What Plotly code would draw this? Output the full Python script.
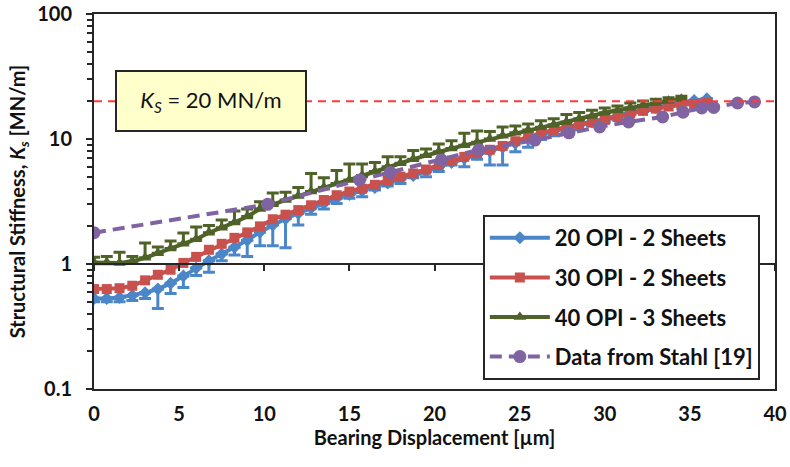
import plotly.graph_objects as go

# ---------------- data ----------------
x_20opi = [0, 0.75, 1.5, 2.25, 3.0, 3.75, 4.5, 5.25, 6.0, 6.75, 7.5, 8.25, 9.0, 9.75, 10.5, 11.25,
           12.0, 12.75, 13.5, 14.25, 15.0, 15.75, 16.5, 17.25, 18.0, 18.75, 19.5, 20.25, 21.0, 21.75,
           22.5, 23.25, 24.0, 24.75, 25.5, 26.25, 27.0, 27.75, 28.5, 29.25, 30.0, 30.75, 31.5, 32.25,
           33.0, 33.75, 34.5, 35.25, 36.0]
k_20opi = [0.53, 0.53, 0.54, 0.56, 0.59, 0.63, 0.70, 0.80, 0.93, 1.06, 1.20, 1.36, 1.55, 1.80, 2.05, 2.3,
           2.55, 2.8, 3.05, 3.35, 3.6, 3.85, 4.1, 4.45, 4.8, 5.1, 5.5, 6.0, 6.5, 7.0,
           7.5, 8.0, 8.6, 9.3, 10.1, 10.9, 11.6, 12.3, 13.0, 13.7, 14.4, 15.2, 16.2, 17.1,
           17.9, 18.7, 19.5, 20.3, 21.0]
err_20opi = [0.03, 0.03, 0.04, 0.05, 0.06, 0.19, 0.12, 0.15, 0.12, 0.2, 0.14, 0.18, 0.4, 0.4, 0.65, 0.95,
             0.5, 0.3, 0.3, 0.3, 0.25, 0.4, 0.2, 0.25, 0.4, 0.2, 0.5, 0.5, 0.3, 1.0,
             0.6, 1.8, 2.4, 1.4, 1.5, 1.0, 1.0, 0.8, 1.2, 1.0, 0.8, 0.8, 0.6, 0.5,
             0.5, 0.5, 0.5, 0.4, 0.4]

x_30opi = x_20opi
k_30opi = [0.63, 0.63, 0.64, 0.67, 0.74, 0.82, 0.90, 1.02, 1.14, 1.30, 1.45, 1.62, 1.79, 2.00, 2.28, 2.48,
           2.70, 2.95, 3.25, 3.55, 3.80, 4.00, 4.3, 4.65, 5.0, 5.3, 5.7, 6.2, 6.7, 7.2,
           7.7, 8.2, 8.8, 9.6, 10.4, 11.1, 11.8, 12.4, 13.0, 13.6, 14.2, 15.0, 16.0, 16.8,
           17.5, 18.2, 18.7, 19.1, 19.5]

x_40opi = [0, 0.75, 1.5, 2.25, 3.0, 3.75, 4.5, 5.25, 6.0, 6.75, 7.5, 8.25, 9.0, 9.75, 10.5, 11.25,
           12.0, 12.75, 13.5, 14.25, 15.0, 15.75, 16.5, 17.25, 18.0, 18.75, 19.5, 20.25, 21.0, 21.75,
           22.5, 23.25, 24.0, 24.75, 25.5, 26.25, 27.0, 27.75, 28.5, 29.25, 30.0, 30.75, 31.5, 32.25,
           33.0, 33.75, 34.5]
k_40opi = [1.03, 1.03, 1.02, 1.05, 1.12, 1.22, 1.33, 1.45, 1.58, 1.78, 1.95, 2.15, 2.4, 2.75, 3.0, 3.25,
           3.5, 3.8, 4.1, 4.4, 4.7, 5.1, 5.5, 6.0, 6.4, 6.9, 7.4, 7.9, 8.4, 8.9,
           9.4, 10.0, 10.6, 11.2, 11.8, 12.4, 13.0, 13.7, 14.5, 15.3, 16.2, 17.0, 17.8, 18.6,
           19.4, 20.2, 21.0]
err_40opi = [0.1, 0.12, 0.22, 0.1, 0.35, 0.15, 0.2, 0.32, 0.4, 0.25, 0.3, 0.5, 0.35, 0.4, 0.7, 0.5,
             0.6, 1.5, 0.8, 1.2, 1.6, 1.2, 1.0, 1.2, 0.8, 1.2, 0.9, 1.2, 1.3, 2.2,
             2.2, 1.5, 1.9, 1.5, 1.4, 1.6, 1.5, 2.0, 1.8, 1.7, 1.5, 1.4, 1.6, 1.5,
             1.4, 1.2, 1.0]

x_stahl = [0, 10.2, 15.6, 17.4, 20.4, 22.6, 25.9, 27.9, 29.7, 31.4, 33.4, 34.6, 35.7, 36.4, 37.8, 38.8]
k_stahl = [1.78, 3.0, 4.7, 5.4, 6.8, 8.2, 9.8, 11.2, 12.5, 13.7, 15.0, 16.4, 17.7, 17.9, 19.4, 19.8]

KS_REF = 20
X_RANGE = [0, 40]
X_TICKS = [0, 5, 10, 15, 20, 25, 30, 35, 40]
Y_TICKS = [0.1, 1, 10, 100]
Y_TICK_TEXT = ["0.1", "1", "10", "100"]

# ---------------- styles ----------------
FONT = "Lato"
BLUE = "#4a86c8"
RED = "#c8504d"
GREEN = "#4f6228"
PURPLE = "#8064a2"
AXIS = "#262626"
TXT = "#111111"

fig = go.Figure()

fig.add_trace(go.Scatter(
    x=x_20opi, y=k_20opi, name="20 OPI - 2 Sheets", mode="lines+markers",
    line=dict(color=BLUE, width=4),
    marker=dict(symbol="diamond", size=10, color=BLUE),
    error_y=dict(type="data", symmetric=False, array=[0] * len(err_20opi), arrayminus=err_20opi,
                 color=BLUE, thickness=3, width=6),
    legendgroup="a",
))
fig.add_trace(go.Scatter(
    x=x_30opi, y=k_30opi, name="30 OPI - 2 Sheets", mode="lines+markers",
    line=dict(color=RED, width=4),
    marker=dict(symbol="square", size=10, color=RED),
    legendgroup="b",
))
fig.add_trace(go.Scatter(
    x=x_40opi, y=k_40opi, name="40 OPI - 3 Sheets", mode="lines+markers",
    line=dict(color=GREEN, width=4),
    marker=dict(symbol="triangle-up", size=11, color=GREEN),
    error_y=dict(type="data", symmetric=False, array=err_40opi, arrayminus=[0] * len(err_40opi),
                 color=GREEN, thickness=3, width=6),
    legendgroup="c",
))
fig.add_trace(go.Scatter(
    x=x_stahl, y=k_stahl, name="Data from Stahl [19]", mode="lines+markers",
    line=dict(color=PURPLE, width=4, dash="12px,7px"),
    marker=dict(symbol="circle", size=13, color=PURPLE),
    legendgroup="d",
))
# reference line Ks = 20 (on the secondary x axis that crosses at y = 1)
fig.add_trace(go.Scatter(
    x=X_RANGE, y=[KS_REF, KS_REF], xaxis="x2", mode="lines",
    line=dict(color="#ff3838", width=2, dash="8px,6px"),
    showlegend=False, hoverinfo="skip",
))

fig.add_annotation(
    x=6.9, y=1.305, xref="x", yref="y",
    text="<i>K<sub>S</sub></i> = 20 MN/m",
    showarrow=False, font=dict(family=FONT, size=22, color=TXT),
    bgcolor="#ffffcc", bordercolor=AXIS, borderwidth=2,
    width=186, height=56, align="center", valign="middle",
)

fig.update_layout(
    width=790, height=467,
    margin=dict(l=94, r=15, t=14, b=78, autoexpand=False),
    paper_bgcolor="white", plot_bgcolor="white",
    font=dict(family=FONT, color=TXT),
    showlegend=True,
    legend=dict(
        x=0.571, y=0.464, xanchor="left", yanchor="top",
        bgcolor="white", bordercolor=AXIS, borderwidth=2,
        font=dict(family=FONT, size=22, weight="bold", color=TXT),
        traceorder="grouped", tracegroupgap=8, itemwidth=60,
    ),
    xaxis=dict(
        range=X_RANGE, tickvals=X_TICKS, ticks="", showgrid=False, zeroline=False,
        showline=True, linecolor=AXIS, linewidth=2, mirror=True, automargin=False,
        tickfont=dict(family=FONT, size=20, weight="bold", color=TXT),
        ticklabelstandoff=6,
        title=dict(text="Bearing Displacement [µm]", standoff=6,
                   font=dict(family=FONT, size=20, weight="bold", color=TXT)),
    ),
    xaxis2=dict(
        overlaying="x", anchor="free", position=1/3, side="bottom",
        range=X_RANGE, tickvals=X_TICKS, showticklabels=False,
        ticks="outside", ticklen=6, tickwidth=2, tickcolor=AXIS,
        showline=True, linecolor=AXIS, linewidth=2, showgrid=False, zeroline=False,
    ),
    yaxis=dict(
        type="log", range=[-1, 2], tickvals=Y_TICKS, ticktext=Y_TICK_TEXT,
        ticks="outside", ticklen=6, tickwidth=2, tickcolor=AXIS,
        minor=dict(ticks="outside", ticklen=5, tickwidth=1.5, tickcolor=AXIS, dtick="D1", showgrid=False),
        showgrid=False, zeroline=False, automargin=False,
        showline=True, linecolor=AXIS, linewidth=2, mirror=True,
        tickfont=dict(family=FONT, size=20, weight="bold", color=TXT),
        ticklabelstandoff=10,
        title=dict(text="Structural Stiffness, <i>K<sub>s</sub></i> [MN/m]", standoff=6,
                   font=dict(family=FONT, size=20, weight="bold", color=TXT)),
    ),
)

# remove the browser's default 8px page margin so the figure fills the window exactly
fig.write_html("out.html", config={"displayModeBar": False},
               post_script="document.body.style.margin='0';")
